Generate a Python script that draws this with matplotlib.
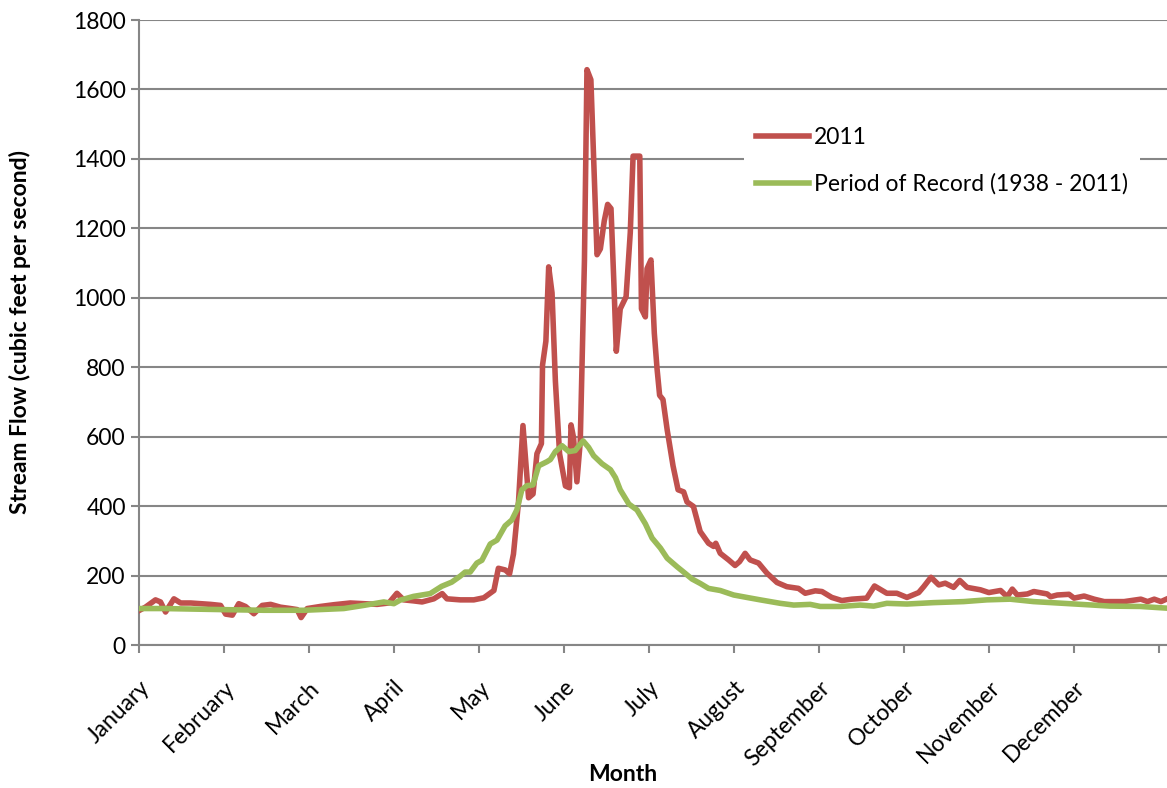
import numpy as np
import matplotlib.pyplot as plt

plt.rcParams['font.family'] = ['Lato', 'DejaVu Sans']

months = ['January', 'February', 'March', 'April', 'May', 'June', 'July',
          'August', 'September', 'October', 'November', 'December']

# day of year / stream flow (cfs)
days_2011 = [0.2, 2.3, 5.9, 7.7, 9.5, 12.5, 14.9, 18.5, 22, 25.6, 29.2, 31, 33.4, 35.7,
             38.1, 41.1, 44.1, 47.1, 50.6, 54.2, 56.6, 58, 60.2, 64.9, 69.7, 75.6, 80.4,
             85.2, 89.4, 92.3, 94.7, 98.3, 101.3, 105.5, 108.5, 110.2, 115, 119.8, 123.4,
             127, 128.6, 131.1, 132.6, 134, 135.8, 137.4, 139.4, 141, 142.4, 144, 144.4,
             145.6, 146.6, 147.8, 149, 150.5, 152.6, 154, 154.6, 155.5, 156.7, 157.9,
             159.4, 160.3, 161.7, 162.7, 163.9, 165.1, 166.5, 167.7, 168.9, 169.9, 170.8,
             172.2, 174.3, 175.8, 176.8, 179.2, 179.8, 181.2, 181.8, 183.2, 184.4, 185.4,
             186.3, 187.5, 189, 191.1, 192.9, 194.9, 196.1, 198.4, 200.8, 203.8, 205.6,
             206.4, 208, 211, 213.3, 214.9, 216.9, 218.7, 221.7, 224.7, 228.3, 231.8, 236,
             238.4, 242, 244.4, 247.9, 251.5, 255.1, 260.4, 263.2, 267.6, 271.2, 274.8,
             279, 280.8, 283.4, 286.2, 288.5, 291.5, 293.7, 296.3, 301.1, 304.1, 308.3,
             310.7, 312.5, 314.3, 317.9, 320.2, 325, 326.2, 328.6, 332.8, 334.6, 338.2,
             341.8, 345.4, 352.5, 358.5, 360.9, 363.3, 365.7, 368.2]
flow_2011 = [100, 109, 130, 124, 95, 133, 121, 121, 119, 117, 114, 89, 86, 119,
             111, 90, 114, 117, 109, 105, 102, 79, 105, 111, 116, 121, 119,
             117, 121, 149, 130, 127, 124, 133, 148, 133, 130, 130, 136,
             157, 221, 216, 205, 262, 412, 632, 424, 435, 551, 580, 806,
             875, 1089, 1014, 760, 551, 458, 453, 634, 597, 470, 586,
             1107, 1657, 1628, 1396, 1124, 1141, 1222, 1269, 1257, 1049, 846,
             968, 1003, 1188, 1408, 1408, 968, 945, 1084, 1109, 898, 794,
             719, 707, 620, 516, 447, 441, 412, 399, 327, 293, 284,
             293, 264, 245, 229, 240, 264, 245, 236, 207, 180, 168, 163,
             149, 156, 154, 137, 128, 132, 135, 170, 149, 149, 137,
             151, 168, 195, 173, 178, 166, 186, 166, 159, 151, 157,
             139, 161, 144, 147, 154, 147, 139, 144, 146, 135, 141,
             132, 125, 125, 132, 125, 132, 125, 134]

days_por = [0.2, 8.7, 29.2, 44.7, 59, 73.3, 80.4, 87.6, 91.2, 93.4, 98.2, 104.2, 108.3,
            111.9, 114.9, 116.7, 118.5, 120.9, 122.7, 125.7, 128.1, 131, 133.4, 135.2,
            137, 138.8, 141, 143, 146, 147.2, 149, 151.4, 153.8, 156.1, 158.9, 160.9,
            162.7, 165.7, 168.7, 170.5, 172.2, 175.3, 178.2, 181.2, 183.6, 186.6, 189,
            192.6, 194.9, 197.9, 200.9, 203.8, 208, 212.8, 217.5, 222.3, 229.5, 234.3,
            240.2, 243.8, 251, 258.1, 262.9, 267.6, 274.8, 284.3, 295.1, 303.4, 311.7,
            320.1, 330.8, 339.2, 347.5, 358.3, 368]
flow_por = [105, 105, 102, 100, 100, 105, 114, 124, 119, 129, 140, 148, 169,
            181, 198, 210, 210, 236, 244, 291, 302, 343, 360, 389,
            447, 459, 461, 516, 528, 534, 557, 574, 557, 560, 588, 569,
            545, 522, 505, 482, 447, 406, 389, 349, 308, 279, 250,
            225, 210, 190, 177, 163, 157, 144, 137, 130, 120, 115,
            117, 111, 111, 115, 112, 120, 118, 122, 125, 130, 132,
            125, 120, 116, 112, 111, 106]

grey = '#868686'
fs = 16.5

fig = plt.figure(figsize=(11.67, 7.88), dpi=100)
ax = fig.add_axes([139 / 1167, (788 - 645) / 788, (1167 - 139) / 1167, 625 / 788])

ax.plot(days_2011, flow_2011, color='#C0504D', lw=4, label='2011',
        solid_joinstyle='round', zorder=3)
ax.plot(days_por, flow_por, color='#9BBB59', lw=4,
        label='Period of Record (1938 - 2011)', solid_joinstyle='round', zorder=3)

ax.set_xlim(0, 365 + 8 / 2.795)
ax.set_ylim(0, 1800)
ax.set_yticks(np.arange(0, 1801, 200))
ax.yaxis.grid(True, color=grey, lw=1.5)
ax.set_axisbelow(True)

month_ticks = [k * 365 / 12 for k in range(13)]
ax.set_xticks(month_ticks)
ax.set_xticklabels(months + [''], rotation=45, ha='right', rotation_mode='anchor')

for s in ['top', 'right']:
    ax.spines[s].set_visible(False)
for s in ['left', 'bottom']:
    ax.spines[s].set_color(grey)
    ax.spines[s].set_linewidth(1.5)
ax.tick_params(axis='both', colors=grey, width=1.5, length=6, labelsize=fs,
               labelcolor='black')
ax.tick_params(axis='x', pad=17)

ax.set_xlabel('Month', fontsize=fs, fontweight='bold')
ax.xaxis.set_label_coords((623 - 139) / (1167 - 139), -0.19)
ax.set_ylabel('Stream Flow (cubic feet per second)', fontsize=fs, fontweight='bold')
ax.yaxis.set_label_coords(-0.105, 0.5)

leg = ax.legend(loc='upper left', bbox_to_anchor=(733 / 1167, 1 - 104 / 788),
                bbox_transform=fig.transFigure, fontsize=fs, frameon=True,
                facecolor='white', edgecolor='none', framealpha=1, fancybox=False,
                handlelength=2.3, handletextpad=0.25, labelspacing=1.1, borderpad=0.5)

plt.savefig('out.png', dpi=100)
